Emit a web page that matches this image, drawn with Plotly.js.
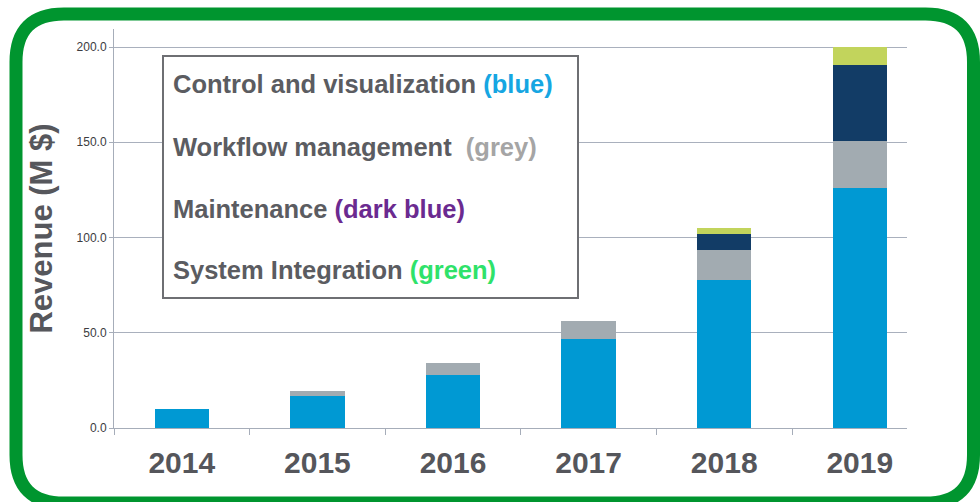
<!DOCTYPE html>
<html>
<head>
<meta charset="utf-8">
<script src="https://cdn.plot.ly/plotly-3.0.1.min.js"></script>
<style>
html,body{margin:0;padding:0;background:#fff;}
#chart{width:980px;height:502px;}
</style>
</head>
<body>
<div id="chart"></div>
<script>
// ---- data ----
const years = ['2014','2015','2016','2017','2018','2019'];
const controlVis = [9.8, 16.6, 27.7, 46.9, 77.7, 125.8];
const workflow   = [0, 2.8, 6.3, 9.3, 15.6, 24.7];
const maintenance= [0, 0, 0, 0, 8.5, 40.1];
const sysInteg   = [0, 0, 0, 0, 3.4, 9.4];
const seriesNames = ['Control and visualization','Workflow management','Maintenance','System Integration'];
const yTicks = [0, 50, 100, 150, 200];
const legendLines = [
  {label:'Control and visualization', tag:'(blue)', color:'#16a6e2'},
  {label:'Workflow management&nbsp;', tag:'(grey)', color:'#a5a5a5'},
  {label:'Maintenance', tag:'(dark blue)', color:'#6b2a90'},
  {label:'System Integration', tag:'(green)', color:'#2fe26a'}
];

// ---- layout helpers (pixel -> paper) ----
const W = 980, H = 502, ML = 114, MR = 73, MT = 29, MB = 74;
const PW = W - ML - MR, PH = H - MT - MB;
const X = px => (px - ML) / PW;
const Y = py => (H - MB - py) / PH;

const colors = ['#0099d3', '#a2abb1', '#123c66', '#c2d45c'];
const vals = [controlVis, workflow, maintenance, sysInteg];
const traces = vals.map((v, i) => ({
  type: 'bar', x: years, y: v, name: seriesNames[i],
  marker: {color: colors[i], line: {width: 0}},
  hoverinfo: 'x+y+name'
}));

// rounded green frame
function roundRect(x0, y0, x1, y1, r) {
  return 'M' + X(x0 + r) + ',' + Y(y0) +
    ' L' + X(x1 - r) + ',' + Y(y0) +
    ' Q' + X(x1) + ',' + Y(y0) + ' ' + X(x1) + ',' + Y(y0 + r) +
    ' L' + X(x1) + ',' + Y(y1 - r) +
    ' Q' + X(x1) + ',' + Y(y1) + ' ' + X(x1 - r) + ',' + Y(y1) +
    ' L' + X(x0 + r) + ',' + Y(y1) +
    ' Q' + X(x0) + ',' + Y(y1) + ' ' + X(x0) + ',' + Y(y1 - r) +
    ' L' + X(x0) + ',' + Y(y0 + r) +
    ' Q' + X(x0) + ',' + Y(y0) + ' ' + X(x0 + r) + ',' + Y(y0) + ' Z';
}

const shapes = [
  {type:'rect', xref:'paper', yref:'paper', x0:X(163), x1:X(578), y0:Y(298), y1:Y(56),
   fillcolor:'#ffffff', line:{color:'#6e6f73', width:2}, layer:'above'},
  {type:'path', xref:'paper', yref:'paper', path: roundRect(16, 14, 973.5, 503, 48),
   line:{color:'#00952f', width:13}, layer:'above'}
];

const lineY = [84, 147, 209, 270];
const annotations = legendLines.map((l, i) => ({
  xref:'paper', yref:'paper', x:X(171), y:Y(lineY[i]), xanchor:'left', yanchor:'middle',
  showarrow:false,
  text: l.label + ' <span style="color:' + l.color + '">' + l.tag + '</span>',
  font:{family:'Liberation Sans, Arial, sans-serif', size:25.5, color:'#5b5c61', weight:'bold'}
}));

const layout = {
  width: W, height: H,
  margin: {l: ML, r: MR, t: MT, b: MB, pad: 0},
  paper_bgcolor: '#ffffff', plot_bgcolor: '#ffffff',
  barmode: 'stack', bargap: 0.6,
  showlegend: false,
  xaxis: {
    type:'category', range:[-0.5, 5.348], fixedrange:true,
    showline:true, linecolor:'#a6adb9', linewidth:1,
    ticks:'outside', tickson:'boundaries', ticklen:6, tickcolor:'#a6adb9',
    showgrid:false, zeroline:false,
    ticklabelstandoff: 8,
    tickfont:{family:'Liberation Sans, Arial, sans-serif', size:30, color:'#55565b', weight:'bold'}
  },
  yaxis: {
    range:[0, PH / 1.905], fixedrange:true,
    tickvals: yTicks, tickformat:'.1f',
    showline:true, linecolor:'#a6adb9', linewidth:1,
    ticks:'outside', ticklen:4, tickcolor:'#a6adb9',
    showgrid:true, gridcolor:'#a9b0bd', gridwidth:1, zeroline:false,
    tickfont:{family:'Liberation Sans Narrow, Arial Narrow, Liberation Sans, sans-serif', size:12, color:'#3c3c40'},
    title:{text:'Revenue (M $)', standoff: 14,
      font:{family:'Liberation Sans, Arial, sans-serif', size:31, color:'#56575c', weight:'bold'}}
  },
  shapes: shapes,
  annotations: annotations
};

Plotly.newPlot('chart', traces, layout, {displayModeBar:false, staticPlot:true});
</script>
</body>
</html>
